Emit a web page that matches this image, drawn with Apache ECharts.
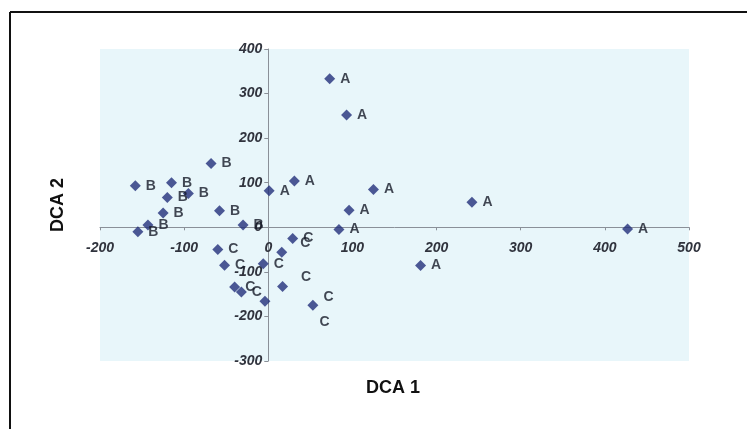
<!DOCTYPE html>
<html>
<head>
<meta charset="utf-8">
<script src="https://cdn.jsdelivr.net/npm/echarts@6/dist/echarts.min.js"></script>
<style>
html,body{margin:0;padding:0;background:#fff;}
#chart{width:747px;height:429px;}
</style>
</head>
<body>
<div id="chart"></div>
<script>
// ---- data ----
const groupNames = ['A', 'B', 'C'];
const pointsA = [[73,333],[93,252],[1,82],[31,104],[125,85],[96,38],[84,-5],[242,56],[427,-4],[181,-86]];
const pointsB = [[-158,93],[-115,100],[-120,67],[-95,76],[-125,32],[-58,37],[-143,5],[-155,-10],[-30,5],[-68,143]];
const pointsC = [[-60,-50],[-52,-85],[-40,-134],[-32,-145],[-6,-82],[-4,-166],[16,-56],[29,-25],[17,-133],[53,-175]];
const xAxisRange = {min: -200, max: 500, interval: 100};
const yAxisRange = {min: -300, max: 400, interval: 100};
const xTitle = 'DCA 1';
const yTitle = 'DCA 2';

// ---- styling only ----
const labelShiftC = [[0,0],[0,0],[0,0],[0,0],[0,0],[44,21],[8,-9],[0,0],[8,-9],[0,-8]];
const gridBox = {left: 100, right: 58, top: 49, bottom: 68};
const W = 747, H = 429;
const plotW = W - gridBox.left - gridBox.right;
const plotH = H - gridBox.top - gridBox.bottom;
// shift the axes so they cross at the origin (labels move with them)
const xAxisShift = -plotH * (0 - yAxisRange.min) / (yAxisRange.max - yAxisRange.min);
const yAxisShift = -plotW * (0 - xAxisRange.min) / (xAxisRange.max - xAxisRange.min);

const chart = echarts.init(document.getElementById('chart'));

function makeSeries(name, pts, shifts) {
  return {
    name: name,
    type: 'scatter',
    symbol: 'diamond',
    symbolSize: 11,
    itemStyle: {color: '#22307a'},
    label: {
      show: true,
      position: 'right',
      distance: 5,
      formatter: '{a}',
      color: '#151a28',
      fontFamily: 'Liberation Sans, Arial, sans-serif',
      fontWeight: 'bold',
      fontSize: 14
    },
    data: pts.map((p, i) => {
      const item = {value: p};
      if (shifts && (shifts[i][0] || shifts[i][1])) {
        item.label = {offset: shifts[i]};
      }
      return item;
    }),
    z: 3
  };
}

const axisLabelStyle = {
  color: '#30333d',
  fontFamily: 'Liberation Sans, Arial, sans-serif',
  fontWeight: 'bold',
  fontStyle: 'italic',
  fontSize: 14
};

chart.setOption({
  animation: false,
  backgroundColor: '#ffffff',
  grid: Object.assign({
    show: true,
    backgroundColor: '#e8f6fa',
    borderWidth: 0
  }, gridBox),
  xAxis: {
    type: 'value',
    position: 'bottom',
    offset: xAxisShift,
    min: xAxisRange.min, max: xAxisRange.max, interval: xAxisRange.interval,
    axisLine: {onZero: false, lineStyle: {color: '#8a9098', width: 1}},
    axisTick: {show: true, length: 3, lineStyle: {color: '#8a9098'}},
    splitLine: {show: false},
    axisLabel: Object.assign({margin: 14, showMinLabel: true, showMaxLabel: true}, axisLabelStyle)
  },
  yAxis: {
    type: 'value',
    position: 'left',
    offset: yAxisShift,
    min: yAxisRange.min, max: yAxisRange.max, interval: yAxisRange.interval,
    axisLine: {onZero: false, lineStyle: {color: '#8a9098', width: 1}},
    axisTick: {show: true, length: 4, lineStyle: {color: '#8a9098'}},
    splitLine: {show: false},
    axisLabel: Object.assign({margin: 6, showMinLabel: true, showMaxLabel: true}, axisLabelStyle)
  },
  series: [
    makeSeries(groupNames[0], pointsA, null),
    makeSeries(groupNames[1], pointsB, null),
    makeSeries(groupNames[2], pointsC, labelShiftC)
  ],
  graphic: [
    {type: 'line', shape: {x1: 10, y1: 12, x2: 747, y2: 12}, style: {stroke: '#111', lineWidth: 2}},
    {type: 'line', shape: {x1: 10, y1: 12, x2: 10, y2: 429}, style: {stroke: '#111', lineWidth: 2}},
    {type: 'text', x: 393, y: 388,
      style: {text: xTitle, fill: '#111', font: 'bold 18px "Liberation Sans", Arial, sans-serif', align: 'center', verticalAlign: 'middle'}},
    {type: 'text', x: 58, y: 205, rotation: Math.PI / 2,
      style: {text: yTitle, fill: '#111', font: 'bold 18px "Liberation Sans", Arial, sans-serif', align: 'center', verticalAlign: 'middle'}}
  ]
});
</script>
</body>
</html>
